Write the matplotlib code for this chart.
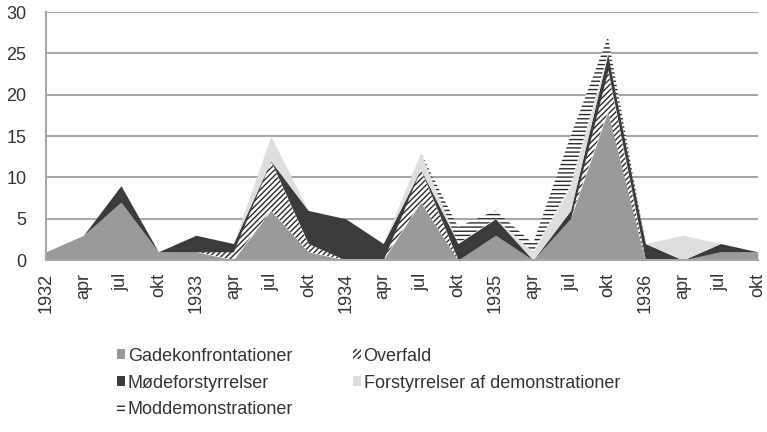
import numpy as np
import matplotlib
matplotlib.use("Agg")
import matplotlib.pyplot as plt
from matplotlib.patches import Patch

plt.rcParams['font.family'] = ['Liberation Sans', 'DejaVu Sans']
plt.rcParams['font.size'] = 13
plt.rcParams['hatch.linewidth'] = 1.0

# kvartaler 1932-1936
labels = ['1932', 'apr', 'jul', 'okt', '1933', 'apr', 'jul', 'okt', '1934', 'apr',
          'jul', 'okt', '1935', 'apr', 'jul', 'okt', '1936', 'apr', 'jul', 'okt']

gade = [1, 3, 7, 1, 1, 0, 6, 1, 0, 0, 7, 0, 3, 0, 5, 18, 0, 0, 1, 1]
overfald = [0, 0, 0, 0, 0, 1, 6, 1, 0, 0, 4, 0, 0, 0, 0, 5, 0, 0, 0, 0]
mode = [0, 0, 2, 0, 2, 1, 0, 4, 5, 2, 0, 2, 2, 0, 1, 2, 2, 0, 1, 0]
forst = [0, 0, 0, 0, 0, 0, 3, 0, 0, 0, 2, 0, 0, 1, 3, 0, 0, 3, 0, 0]
moddem = [0, 0, 0, 0, 0, 0, 0, 0, 0, 0, 0, 2, 1, 1, 6, 2, 0, 0, 0, 0]

names = ['Gadekonfrontationer', 'Overfald', 'Mødeforstyrrelser',
         'Forstyrrelser af demonstrationer', 'Moddemonstrationer']
series = [gade, overfald, mode, forst, moddem]
faces = ['#9a9a9c', 'white', '#3b3b3b', '#dedede', 'white']
hatches = [None, '//////', None, None, '----']
edges = ['#9a9a9c', '#2a2a2a', '#3b3b3b', '#dedede', '#2a2a2a']

x = np.arange(len(labels))

fig = plt.figure(figsize=(7.67, 4.32), dpi=100)
ax = fig.add_axes([0.060, 0.398, 0.928, 0.574])

bottom = np.zeros(len(labels))
for vals, fc, h, ec in zip(series, faces, hatches, edges):
    top = bottom + np.array(vals)
    ax.fill_between(x, bottom, top, facecolor=fc, hatch=h, edgecolor=ec,
                    linewidth=0, zorder=2)
    bottom = top

ax.set_xlim(0, len(labels) - 1)
ax.set_ylim(0, 30)
ax.set_yticks(range(0, 31, 5))
ax.set_xticks(x)
ax.set_xticklabels(labels, rotation=90)
ax.tick_params(length=0, colors='#333333')
ax.tick_params(axis='y', pad=14)
ax.tick_params(axis='x', pad=9)
ax.grid(axis='y', color='#a8a8a8', linewidth=1.5, zorder=0)
ax.set_axisbelow(True)
for s in ['top', 'right']:
    ax.spines[s].set_visible(False)
for s in ['left', 'bottom']:
    ax.spines[s].set_color('#a8a8a8')
    ax.spines[s].set_linewidth(1.5)

handles = [Patch(facecolor=fc, hatch=h, edgecolor=ec, linewidth=0)
           for fc, h, ec in zip(faces, hatches, edges)]
order = [0, 2, 4, 1, 3]
fig.legend([handles[i] for i in order], [names[i] for i in order],
           loc='upper left', bbox_to_anchor=(0.143, 0.212), ncol=2, frameon=False,
           handlelength=0.45, handleheight=0.45, handletextpad=0.15,
           columnspacing=3.3, labelspacing=0.55, borderaxespad=0,
           labelcolor='#333333')

fig.savefig('out.png', dpi=100)
